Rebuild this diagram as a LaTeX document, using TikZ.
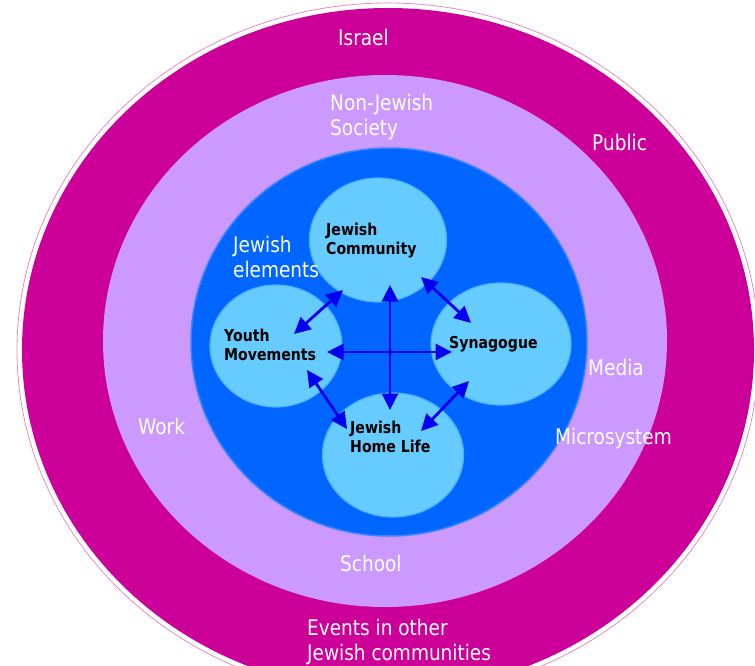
\documentclass[tikz,border=0pt]{standalone}
\usepackage{fontspec}
\usetikzlibrary{shapes.geometric,arrows.meta}
\newfontfamily\lblfont{DejaVu Sans}[FakeStretch=0.86]
\definecolor{ringouter}{HTML}{CC0099}
\definecolor{ringedge}{HTML}{E58CCB}
\definecolor{ringmid}{HTML}{CC99FF}
\definecolor{ringinner}{HTML}{0066FF}
\definecolor{inneredge}{HTML}{3D85FF}
\definecolor{bubble}{HTML}{66CCFF}
\definecolor{bubbleedge}{HTML}{4FB0FF}
\definecolor{arrowblue}{HTML}{0000EE}
\newcommand{\twolines}[2]{\vtop{\hbox{#1}\hbox{#2}}}
\tikzset{
  ring/.style={ellipse, inner sep=0pt, outer sep=0pt},
  bubblenode/.style={ellipse, inner sep=0pt, outer sep=0pt, fill=bubble, draw=bubbleedge, line width=1.2pt},
  outerlabel/.style={anchor=base west, inner sep=0pt, text=white,
    font=\lblfont\fontsize{21.5}{25}\selectfont},
  innerlabel/.style={anchor=base west, inner sep=0pt, text=black,
    font=\lblfont\bfseries\fontsize{16.4}{19}\selectfont},
  link/.style={arrowblue, line width=2.8pt,
    {Triangle[length=16.5pt,width=16pt]}-{Triangle[length=16.5pt,width=16pt]}}
}
\begin{document}
\begin{tikzpicture}[x=1pt,y=-1pt]
\useasboundingbox (0,0) rectangle (755,666);
\fill[white] (0,0) rectangle (755,666);
\clip (0,0) rectangle (755,666);

% nested spheres of influence
\node[ring, draw=ringedge, line width=0.8pt, minimum width=742pt, minimum height=694pt] (halo) at (388,350) {};
\node[ring, fill=ringouter, minimum width=732pt, minimum height=684pt] (israel) at (388,350) {};
\node[ring, fill=ringmid, minimum width=564pt, minimum height=532pt] (society) at (385,341) {};
\node[ring, fill=ringinner, draw=inneredge, line width=1.5pt, minimum width=396pt, minimum height=388pt] (micro) at (389,342) {};

% Jewish elements
\node[bubblenode, minimum width=137pt, minimum height=124pt] (community) at (378,240) {};
\node[bubblenode, minimum width=132pt, minimum height=122pt] (youth) at (276,346) {};
\node[bubblenode, minimum width=140pt, minimum height=122pt] (synagogue) at (501,344) {};
\node[bubblenode, minimum width=141pt, minimum height=124pt] (home) at (393,455) {};

% labels of the outer rings
\node[outerlabel] (lbIsrael) at (338,46) {Israel};
\node[outerlabel] (lbSociety) at (330,111) {\twolines{Non-Jewish}{Society}};
\node[outerlabel] (lbPublic) at (592,150) {Public};
\node[outerlabel] (lbElements) at (233,252) {\twolines{Jewish}{elements}};
\node[outerlabel] (lbMedia) at (588,375) {Media};
\node[outerlabel] (lbMicro) at (555,444) {Microsystem};
\node[outerlabel] (lbWork) at (138,434) {Work};
\node[outerlabel] (lbSchool) at (340,571) {School};
\node[outerlabel] (lbEvents) at (307,635) {\twolines{Events in other}{Jewish communities}};

% labels of the bubbles
\node[innerlabel] (txCommunity) at (326,235) {\twolines{Jewish}{Community}};
\node[innerlabel] (txYouth) at (224,341) {\twolines{Youth}{Movements}};
\node[innerlabel] (txSynagogue) at (449,348) {Synagogue};
\node[innerlabel] (txHome) at (350,433) {\twolines{Jewish}{Home Life}};

% arrow end points
\coordinate (cmYouth) at (343,290);
\coordinate (ymComm) at (294,334);
\coordinate (cmSyn) at (421,277);
\coordinate (syComm) at (471,323);
\coordinate (cmHome) at (390,285);
\coordinate (hmComm) at (390,410);
\coordinate (ymSyn) at (327,352);
\coordinate (syYouth) at (452,352);
\coordinate (ymHome) at (307,370);
\coordinate (hmYouth) at (347,429);
\coordinate (syHome) at (469,381);
\coordinate (hmSyn) at (421,431);

% two-way links
\draw[link] (cmYouth) -- (ymComm);
\draw[link] (cmSyn) -- (syComm);
\draw[link] (cmHome) -- (hmComm);
\draw[link] (ymSyn) -- (syYouth);
\draw[link] (ymHome) -- (hmYouth);
\draw[link] (syHome) -- (hmSyn);
\end{tikzpicture}
\end{document}
